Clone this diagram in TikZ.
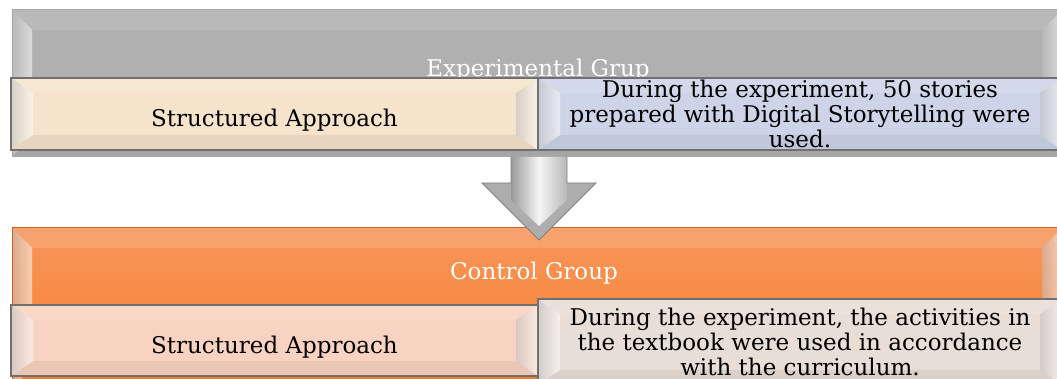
\documentclass[tikz,border=0pt]{standalone}
\usepackage{fontspec}
\setmainfont{DejaVu Serif}
\usepackage{tikz}
\usetikzlibrary{calc}

\definecolor{expGray}{RGB}{176,176,176}
\definecolor{expTan}{RGB}{245,228,203}
\definecolor{expLav}{RGB}{206,212,232}
\definecolor{ctrlOrangeTop}{RGB}{246,150,92}
\definecolor{ctrlOrangeBot}{RGB}{251,127,44}
\definecolor{ctrlPink}{RGB}{249,211,193}
\definecolor{ctrlGreige}{RGB}{232,222,214}
\definecolor{edgeGray}{RGB}{112,112,112}

\newcommand{\panelfont}{\fontsize{11.5pt}{12.5pt}\selectfont}

\tikzset{
	bevel/.style 2 args={path picture={
		\path (path picture bounding box.north west) coordinate (bnw)
			(path picture bounding box.north east) coordinate (bne)
			(path picture bounding box.south west) coordinate (bsw)
			(path picture bounding box.south east) coordinate (bse);
		\fill[white, opacity=.12] (bnw) -- (bne) -- ($(bne)+(-#1,-#2)$) -- ($(bnw)+(#1,-#2)$) -- cycle;
		\fill[black, opacity=.06] (bsw) -- (bse) -- ($(bse)+(-#1,#2)$) -- ($(bsw)+(#1,#2)$) -- cycle;
		\shade[left color=black!25, right color=white, opacity=.55] (bnw) -- ($(bnw)+(#1,-#2)$) -- ($(bsw)+(#1,#2)$) -- (bsw) -- cycle;
		\shade[left color=black!25, right color=white, opacity=.55] (bne) -- ($(bne)+(-#1,-#2)$) -- ($(bse)+(-#1,#2)$) -- (bse) -- cycle;
	}},
	panel/.style={rectangle, anchor=north west, inner sep=0pt, outer sep=0pt, font=\panelfont, align=center},
	bigpanel/.style={panel, line width=.5pt, bevel={10pt}{10pt}},
	smallpanel/.style={panel, draw=edgeGray, line width=.8pt, bevel={11pt}{7.5pt}},
	oneline/.style={text height=13pt, text depth=0pt},
	titletxt/.style={anchor=base, inner sep=0pt, font=\panelfont, text=white},
	arrowshaft/.style={left color=black!40, right color=black!28, middle color=black!4},
	arrowhead/.style={fill=black!32},
}

\begin{document}
\begin{tikzpicture}[x=0.5pt, y=-0.5pt]
	\useasboundingbox (0,0) rectangle (1057,379);

	% experimental group
	\node[bigpanel, draw=black!35, fill=expGray, minimum width=525pt, minimum height=73.5pt] (expgroup) at (12,10) {};
	\node[titletxt] (exptitle) at (538,77) {Experimental Grup};
	\node[smallpanel, oneline, fill=expTan, minimum width=263.5pt, minimum height=36pt] (expapproach) at (11,78) {Structured Approach};
	\node[smallpanel, fill=expLav, minimum width=262pt, minimum height=36pt] (expstories) at (538,78)
		{During the experiment, 50 stories\\prepared with Digital Storytelling were\\used.};

	% control group
	\node[bigpanel, draw=ctrlOrangeBot!80!black, top color=ctrlOrangeTop, bottom color=ctrlOrangeBot, minimum width=525pt, minimum height=80pt] (ctrlgroup) at (12,228) {};
	\node[titletxt] (ctrltitle) at (534,280) {Control Group};
	\node[smallpanel, oneline, fill=ctrlPink, minimum width=263.5pt, minimum height=35.5pt] (ctrlapproach) at (11,305) {Structured Approach};
	\node[smallpanel, fill=ctrlGreige, minimum width=262pt, minimum height=43pt] (ctrltextbook) at (538,299)
		{During the experiment, the activities in\\the textbook were used in accordance\\with the curriculum.};

	% arrow between the groups
	\coordinate (arrtop) at ($(expgroup.south)+(2,0)$);
	\coordinate (arrtip) at (539,240);
	\fill[arrowhead] ($(arrtip)+(-57,-57)$) -- (arrtip) -- ($(arrtip)+(57,-57)$) -- cycle;
	\shade[arrowshaft] ($(arrtop)+(-28,0)$) -- ($(arrtip)+(-28,-40)$) -- ($(arrtip)+(0,-14)$)
		-- ($(arrtip)+(28,-40)$) -- ($(arrtop)+(28,0)$) -- cycle;
	\draw[black!50, line width=.4pt] ($(arrtop)+(-28,0)$) -- ($(arrtip)+(-28,-57)$) -- ($(arrtip)+(-57,-57)$)
		-- (arrtip) -- ($(arrtip)+(57,-57)$) -- ($(arrtip)+(28,-57)$) -- ($(arrtop)+(28,0)$);
\end{tikzpicture}
\end{document}
